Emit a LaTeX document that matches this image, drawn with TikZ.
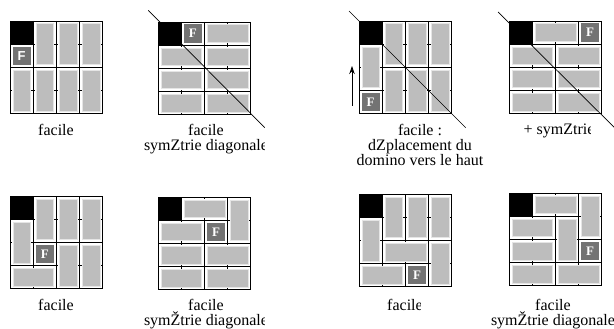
\documentclass[tikz,border=0pt]{standalone}
\usepackage{fontspec}
\setmainfont{Liberation Serif}
\newfontfamily\sansF{Liberation Sans}
\usetikzlibrary{arrows.meta}

% une piece grise entre deux coins de cases
\newcommand{\piece}[4]{%
  \fill[white] ([shift={(2pt,-2pt)}]#1,#2) rectangle ([shift={(-2pt,2pt)}]#3,#4);
  \filldraw[domino] ([shift={(2.8pt,-2.8pt)}]#1,#2) rectangle ([shift={(-2.8pt,2.8pt)}]#3,#4);
}
\newcommand{\domH}[2]{\piece{#1}{#2}{#1+2}{#2+1}}
\newcommand{\domV}[2]{\piece{#1}{#2}{#1+1}{#2+2}}
% les 4x4 cases
\newcommand{\quadrillage}{%
  \foreach \k in {0,...,4} {
    \draw[ligne] (\k,0) -- (\k,4);
    \draw[ligne] (0,\k) -- (4,\k);
  }
  \fill[noir] (0,0) rectangle (1,1);
}

\begin{document}
\begin{tikzpicture}[x=1pt, y=-1pt,
  ligne/.style={line width=0.7pt},
  domino/.style={fill=black!26, draw=black!10, line width=0.6pt},
  noir/.style={fill=black},
  caseF/.style={fill=black!55, text=white, font=\bfseries\fontsize{13}{13}\selectfont,
    minimum size=18.2pt, inner sep=0pt},
  legende/.style={align=center, anchor=north, inner sep=0pt, font=\fontsize{16}{15}\selectfont},
  diag/.style={line width=0.7pt},
  fleche/.style={-{Stealth[length=8pt, width=5.5pt]}, line width=0.8pt},
  panneau/.style={x=23.2pt, y=-23.2pt}]

\useasboundingbox (0,0) rectangle (614,329);

% ---- ligne du haut ----
\begin{scope}[shift={(10,21)}, panneau]
  \quadrillage
  \domV{1}{0} \domV{2}{0} \domV{3}{0}
  \domV{0}{2} \domV{1}{2} \domV{2}{2} \domV{3}{2}
  \node[caseF, font=\sansF\bfseries\fontsize{13}{13}\selectfont] (F1) at (0.5,1.5) {F};
\end{scope}
\node[legende] (leg1) at (56,124) {facile};

\begin{scope}[shift={(158,22)}, panneau]
  \quadrillage
  \domH{2}{0}
  \domH{0}{1} \domH{2}{1}
  \domH{0}{2} \domH{2}{2}
  \domH{0}{3} \domH{2}{3}
  \node[caseF] (F2) at (1.5,0.5) {F};
  \draw[diag] (-0.42,-0.5) -- (4.6,4.55);
\end{scope}
\begin{scope}
  \clip (130,115) rectangle (264,160);
  \node[legende] (leg2) at (206,124) {facile\\symZtrie diagonale};
\end{scope}

\begin{scope}[shift={(359,21)}, panneau]
  \quadrillage
  \domV{0}{1}
  \domV{1}{0} \domV{2}{0} \domV{3}{0}
  \domV{1}{2} \domV{2}{2} \domV{3}{2}
  \node[caseF] (F3) at (0.5,3.5) {F};
  \draw[diag] (-0.43,-0.43) -- (4.6,4.6);
\end{scope}
\coordinate (bas) at (352,106);
\coordinate (haut) at (352,66);
\draw[fleche] (bas) -- (haut);
\node[legende] (leg3) at (420,124) {facile :\hspace{0.9em}\\dZplacement du\\domino vers le haut};

\begin{scope}[shift={(509,21)}, panneau]
  \quadrillage
  \domH{1}{0}
  \domH{0}{1} \domH{2}{1}
  \domH{0}{2} \domH{2}{2}
  \domH{0}{3} \domH{2}{3}
  \node[caseF] (F4) at (3.5,0.5) {F};
  \draw[diag] (-0.47,-0.39) -- (4.55,4.6);
\end{scope}
\begin{scope}
  \clip (480,115) rectangle (590,160);
  \node[legende] (leg4) at (559,124) {+ symZtrie};
\end{scope}

% ---- ligne du bas ----
\begin{scope}[shift={(10,196)}, panneau]
  \quadrillage
  \domV{1}{0} \domV{2}{0} \domV{3}{0}
  \domV{0}{1}
  \domH{0}{3}
  \domV{2}{2} \domV{3}{2}
  \node[caseF] (F5) at (1.5,2.5) {F};
\end{scope}
\node[legende] (leg5) at (56,299) {facile};

\begin{scope}[shift={(158,197)}, panneau]
  \quadrillage
  \domH{1}{0} \domV{3}{0}
  \domH{0}{1}
  \domH{0}{2} \domH{2}{2}
  \domH{0}{3} \domH{2}{3}
  \node[caseF] (F6) at (2.5,1.5) {F};
\end{scope}
\begin{scope}
  \clip (130,290) rectangle (264,329);
  \node[legende] (leg6) at (206,299) {facile\\symŽtrie diagonale};
\end{scope}

\begin{scope}[shift={(359,194)}, panneau]
  \quadrillage
  \domV{1}{0} \domV{2}{0} \domV{3}{0}
  \domV{0}{1}
  \domH{1}{2} \domV{3}{2}
  \domH{0}{3}
  \node[caseF] (F7) at (2.5,3.5) {F};
\end{scope}
\begin{scope}
  \clip (330,290) rectangle (420,329);
  \node[legende] (leg7) at (405,299) {facile};
\end{scope}

\begin{scope}[shift={(509,193)}, panneau]
  \quadrillage
  \domH{1}{0} \domV{3}{0}
  \domH{0}{1} \domV{2}{1}
  \domH{0}{2}
  \domH{0}{3} \domH{2}{3}
  \node[caseF] (F8) at (3.5,2.5) {F};
\end{scope}
\begin{scope}
  \clip (480,290) rectangle (613,329);
  \node[legende] (leg8) at (553,299) {facile\\symŽtrie diagonale};
\end{scope}
\end{tikzpicture}
\end{document}
